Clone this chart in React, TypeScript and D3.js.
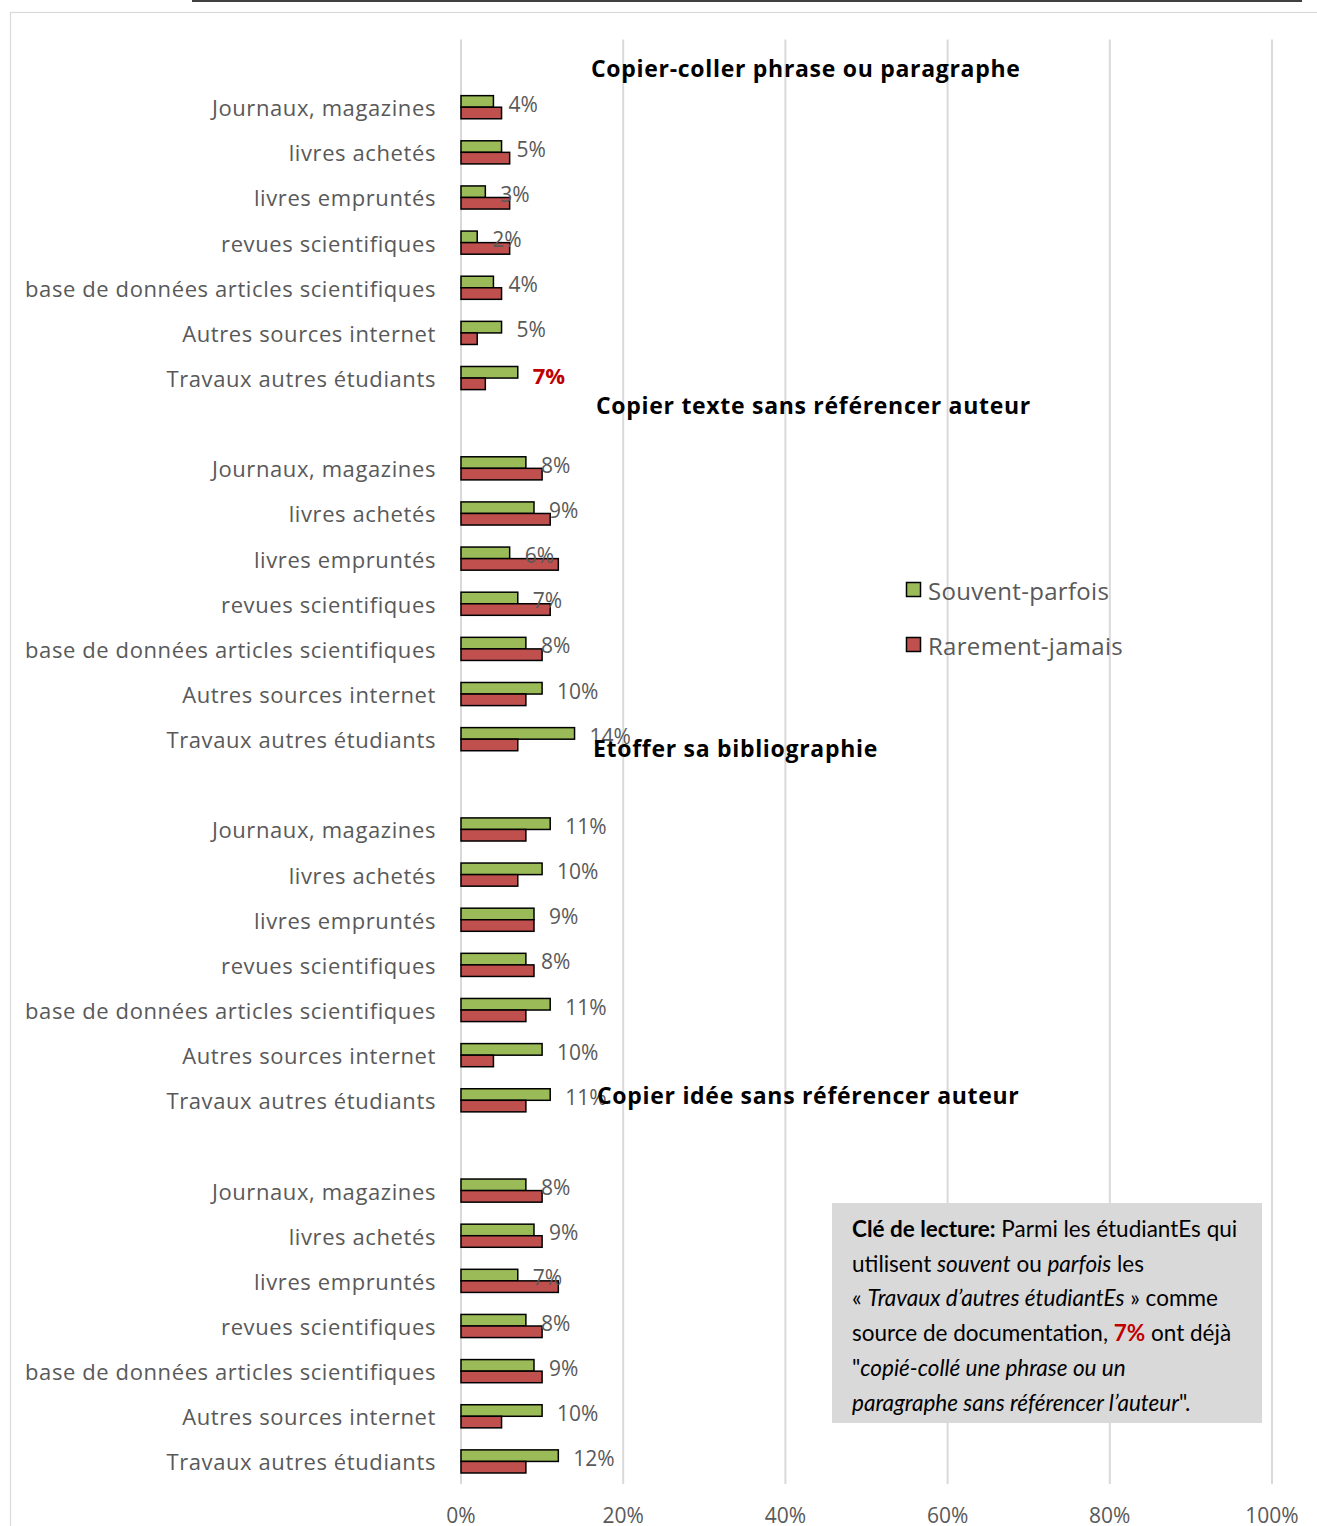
import React from "react";
import * as d3 from "d3";

const categories = [
  "Journaux, magazines",
  "livres achetés",
  "livres empruntés",
  "revues scientifiques",
  "base de données articles scientifiques",
  "Autres sources internet",
  "Travaux autres étudiants",
];
const groupTitles = [
  "Copier-coller phrase ou paragraphe",
  "Copier texte sans référencer auteur",
  "Etoffer sa bibliographie",
  "Copier idée sans référencer auteur",
];
const seriesNames = ["Souvent-parfois", "Rarement-jamais"];
const souventParfois = [
  [4, 5, 3, 2, 4, 5, 7],
  [8, 9, 6, 7, 8, 10, 14],
  [11, 10, 9, 8, 11, 10, 11],
  [8, 9, 7, 8, 9, 10, 12],
];
const rarementJamais = [
  [5, 6, 6, 6, 5, 2, 3],
  [10, 11, 12, 11, 10, 8, 7],
  [8, 7, 9, 9, 8, 4, 8],
  [10, 10, 12, 10, 10, 5, 8],
];
const xTicks = [0, 20, 40, 60, 80, 100];
const highlighted = { group: 0, category: 6 };

// layout
const W = 1317;
const H = 1526;
const X0 = 461;
const X1 = 1272;
const Y0 = 39.5;
const Y1 = 1484;
const titleLayout = [
  { x: 591, y: 68 },
  { x: 596, y: 405 },
  { x: 593, y: 748 },
  { x: 597, y: 1095 },
];
const COLORS = ["#9BBB59", "#C0504D"];
const GRID = "#D9D9D9";
const TXT = "#595959";
const FONT = "'Open Sans', sans-serif";
const KEYFONT = "Lato, 'Open Sans', sans-serif";

export default function App() {
  const slots: { key: string; g: number; c: number }[] = [];
  groupTitles.forEach((_, g) => {
    slots.push({ key: `blank${g}`, g, c: -1 });
    categories.forEach((_, c) => slots.push({ key: `${g}-${c}`, g, c }));
  });
  const y = d3.scaleBand<string>().domain(slots.map((s) => s.key)).range([Y0, Y1]).paddingInner(0).paddingOuter(0);
  const x = d3.scaleLinear().domain([0, 100]).range([X0, X1]);
  const bw = y.bandwidth();
  const barH = bw * 0.256;

  const keyLines: { t: string; s?: "b" | "i" | "r" }[][] = [
    [{ t: "Clé de lecture:", s: "b" }, { t: " Parmi les étudiantEs qui" }],
    [{ t: "utilisent " }, { t: "souvent", s: "i" }, { t: " ou " }, { t: "parfois", s: "i" }, { t: " les" }],
    [{ t: "« " }, { t: "Travaux d’autres étudiantEs", s: "i" }, { t: " » comme" }],
    [{ t: "source de documentation, " }, { t: "7%", s: "r" }, { t: " ont déjà" }],
    [{ t: "\"" }, { t: "copié-collé une phrase ou un", s: "i" }],
    [{ t: "paragraphe sans référencer l’auteur", s: "i" }, { t: "\"." }],
  ];

  return (
    <svg width={W} height={H} style={{ position: "absolute", left: 0, top: 0, background: "#fff" }}>
      <line x1={192} x2={1302} y1={1} y2={1} stroke="#000" strokeWidth={1.5} />
      <rect x={10.5} y={12.5} width={1320} height={1530} fill="#fff" stroke={GRID} strokeWidth={1.2} />
      {xTicks.map((t) => (
        <g key={t}>
          <line x1={x(t)} x2={x(t)} y1={Y0} y2={Y1} stroke={GRID} strokeWidth={2} />
          <text x={x(t)} y={1515} textAnchor="middle" dominantBaseline="central" fontFamily={FONT} fontSize={21} fill={TXT}>
            {t}%
          </text>
        </g>
      ))}
      {slots.filter((s) => s.c >= 0).map((s) => {
        const cy = (y(s.key) as number) + bw / 2;
        const v1 = souventParfois[s.g][s.c];
        const v2 = rarementJamais[s.g][s.c];
        const hl = s.g === highlighted.group && s.c === highlighted.category;
        return (
          <g key={s.key}>
            <text x={436} y={cy} textAnchor="end" dominantBaseline="central" fontFamily={FONT} fontSize={22} letterSpacing={0.6} fill={TXT}>
              {categories[s.c]}
            </text>
            <rect x={x(0)} y={cy - barH} width={x(v1) - x(0)} height={barH} fill={COLORS[0]} stroke="#000" strokeWidth={1.5} />
            <rect x={x(0)} y={cy} width={x(v2) - x(0)} height={barH} fill={COLORS[1]} stroke="#000" strokeWidth={1.5} />
            <text
              x={x(v1) + 15}
              y={cy - 3.5}
              dominantBaseline="central"
              fontFamily={FONT}
              fontSize={hl ? 22 : 21}
              fontWeight={hl ? 700 : 400}
              fill={hl ? "#C00000" : TXT}
            >
              {v1}%
            </text>
          </g>
        );
      })}
      {groupTitles.map((t, i) => (
        <text key={t} x={titleLayout[i].x} y={titleLayout[i].y} dominantBaseline="central" fontFamily={FONT} fontWeight={700} fontSize={23} letterSpacing={0.7} fill="#000">
          {t}
        </text>
      ))}
      {seriesNames.map((n, i) => (
        <g key={n}>
          <rect x={906.5} y={582.5 + i * 55} width={14} height={14} fill={COLORS[i]} stroke="#000" strokeWidth={1.5} />
          <text x={928} y={590 + i * 55} dominantBaseline="central" fontFamily={FONT} fontSize={24} letterSpacing={0.3} fill={TXT}>
            {n}
          </text>
        </g>
      ))}
      <rect x={832} y={1203} width={430} height={220} fill="#D9D9D9" />
      {keyLines.map((line, i) => (
        <text key={i} x={852} y={1228 + i * 34.7} dominantBaseline="central" fontFamily={KEYFONT} fontSize={22.5} fill="#000">
          {line.map((p, j) => (
            <tspan
              key={j}
              fontWeight={p.s === "b" || p.s === "r" ? 700 : 400}
              fontStyle={p.s === "i" ? "italic" : "normal"}
              fill={p.s === "r" ? "#C00000" : "#000"}
            >
              {p.t}
            </tspan>
          ))}
        </text>
      ))}
    </svg>
  );
}
